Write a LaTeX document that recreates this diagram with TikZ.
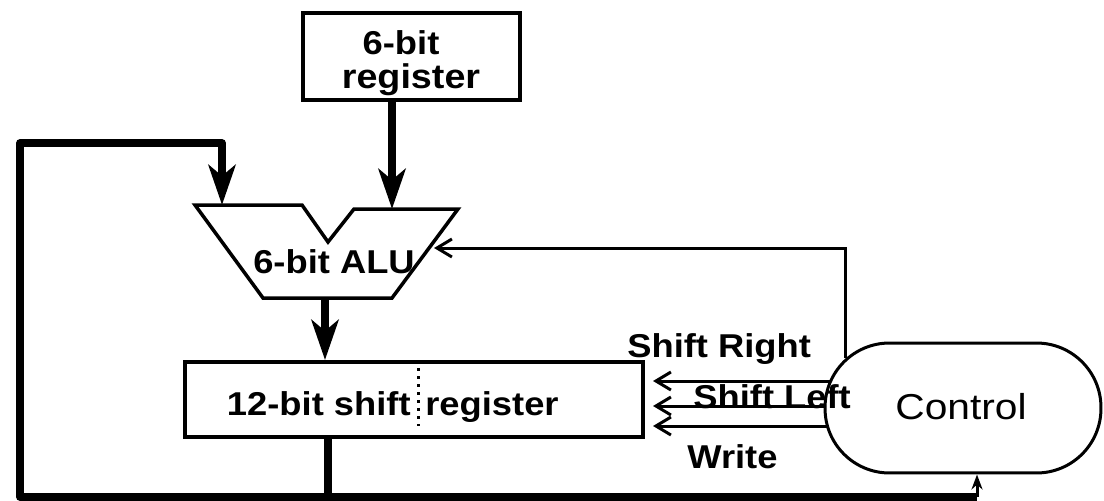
\documentclass[tikz,border=0pt]{standalone}
\usepackage{fontspec}
\setmainfont{Liberation Sans}
\newfontfamily\labfont[FakeStretch=1.1]{Liberation Sans}
\newfontfamily\ctlfont[FakeStretch=1.13]{Liberation Sans}
\usetikzlibrary{arrows.meta}

\begin{document}
\begin{tikzpicture}[x=0.02cm, y=-0.02cm,
  bus/.style={line width=0.15cm, line join=round},
  wire/.style={line width=0.06cm},
  box/.style={draw, line width=0.08cm, inner sep=0pt},
  lbl/.style={font=\labfont\bfseries\fontsize{18.8}{20}\selectfont, inner sep=0pt},
  bigtip/.style={-{Stealth[length=0.8cm, width=0.54cm, inset=0.22cm]}},
  barb/.style={-{Straight Barb[length=0.3cm, width=0.36cm]}},
  smalltip/.style={-{Stealth[length=0.3cm, width=0.22cm]}}
]
\useasboundingbox (0,0) rectangle (1104,500);

% 6-bit register
\node[box, minimum width=4.34cm, minimum height=1.74cm] (reg) at (411.5,56.5) {};
\node[lbl, anchor=base] (regA) at (401,55) {6-bit};
\node[lbl, font=\labfont\bfseries\fontsize{19.5}{22}\selectfont, anchor=base] (regB) at (411,89) {register};

% ALU outline with its two input ports
\draw[line width=0.07cm, line join=miter]
  (195,205) -- (302,205) -- (328,242) -- (354,209) -- (458,209)
  -- (392,298) -- (263,298) -- cycle;
\node[lbl, anchor=base] (alu) at (334,273) {6-bit ALU};
\coordinate (aluL) at (222,205);
\coordinate (aluR) at (392,209);
\coordinate (aluOut) at (325,298);
\coordinate (aluCtl) at (434,248);

% 12-bit shift register, split in two halves
\node[box, minimum width=9.16cm, minimum height=1.5cm] (sreg) at (414,399.5) {};
\node[lbl, anchor=base east] (sregA) at (411,415) {12-bit shift};
\node[lbl, anchor=base west] (sregB) at (425,415) {register};
\draw[line width=0.06cm, dash pattern=on 0.06cm off 0.1cm] (418,368) -- (418,426);

% Control unit
\node[draw, line width=0.06cm, rounded corners=1.29cm, minimum width=5.52cm,
      minimum height=2.6cm, inner sep=0pt] (ctl) at (963,408) {};
\node[font=\ctlfont\fontsize{20.5}{22}\selectfont, inner sep=0pt, anchor=base] (ctlT) at (961,419) {Control};

% data paths
\draw[bus, bigtip] (reg.south -| aluR) -- (aluR);
\draw[bus, bigtip] (aluOut) -- (sreg.north -| aluOut);
\coordinate (tap) at (328,437);
\coordinate (loopB) at (328,497);
\draw[bus, bigtip] (tap) -- (loopB) -- (20,497) -- (20,143) -- (222,143) -- (aluL);
\draw[bus] (loopB) -- (977,497);
\draw[wire, smalltip] (977,497) -- (ctl.south -| 977,0);

% control lines
\draw[wire, barb] (845,358) -- (845,248) -- (aluCtl);
\coordinate (sr) at (831,381);
\coordinate (sl) at (825,406);
\coordinate (wr) at (827.5,426);
\draw[wire, barb] (sr) -- (653,381);
\draw[wire, barb] (sl) -- (653,406);
\draw[wire, barb] (wr) -- (653,426);

\node[lbl, anchor=base west] (lsr) at (627,357) {Shift Right};
\node[lbl, anchor=base west] (lsl) at (693,408) {Shift Left};
\node[lbl, anchor=base west] (lwr) at (687,468) {Write};
\end{tikzpicture}
\end{document}
